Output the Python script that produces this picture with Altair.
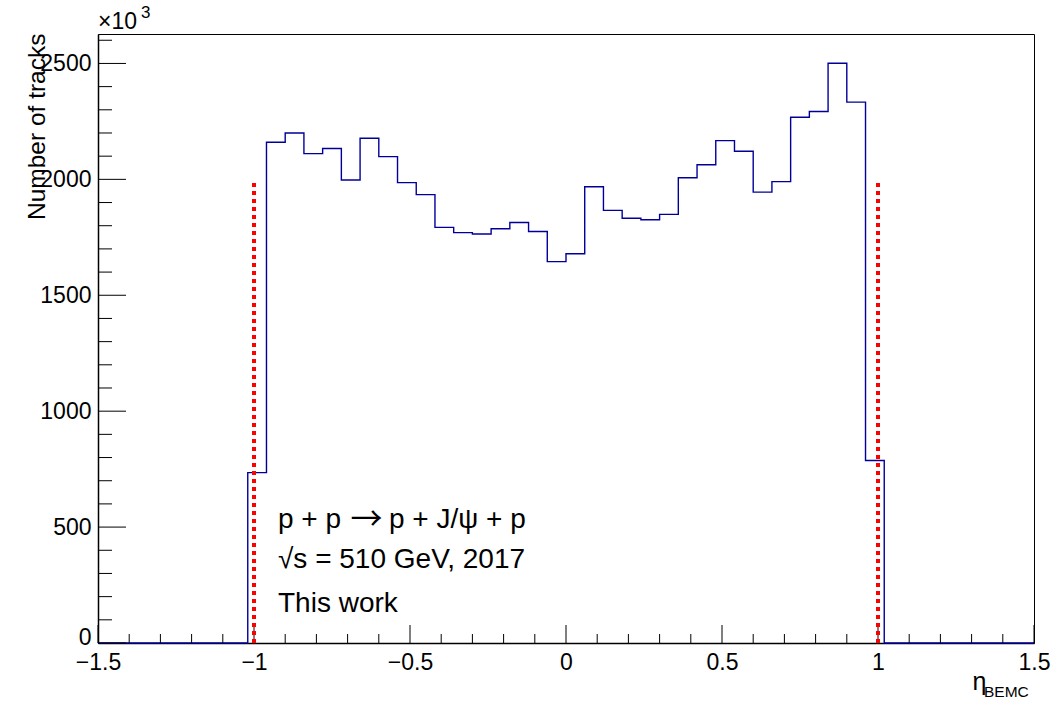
import altair as alt
import pandas as pd

# ---------------- data ----------------
bin_lo = -1.02          # lower edge of first filled bin
bin_width = 0.06        # 50 bins over [-1.5, 1.5]
counts = [735, 2160, 2200, 2111, 2133, 1997, 2177, 2098, 1986, 1934,
          1793, 1770, 1764, 1787, 1814, 1775, 1645, 1679, 1968, 1866,
          1832, 1826, 1849, 2007, 2063, 2167, 2121, 1945, 1990, 2268,
          2293, 2501, 2333, 787]          # in units of 10^3 tracks
x_min, x_max = -1.5, 1.5
y_max = 2627
cut_positions = [-1.0, 1.0]
cut_height = 1985
x_major = [-1.5, -1.0, -0.5, 0.0, 0.5, 1.0, 1.5]
x_minor = [-1.4, -1.3, -1.2, -1.1, -0.9, -0.8, -0.7, -0.6, -0.4, -0.3, -0.2, -0.1,
           0.1, 0.2, 0.3, 0.4, 0.6, 0.7, 0.8, 0.9, 1.1, 1.2, 1.3, 1.4]
y_major = [0, 500, 1000, 1500, 2000, 2500]
y_minor = [100, 200, 300, 400, 600, 700, 800, 900, 1100, 1200, 1300, 1400,
           1600, 1700, 1800, 1900, 2100, 2200, 2300, 2400, 2600]
annot_a = "p + p"
annot_arrow = "\u2192"
annot_b = "p + J/\u03c8 + p"
annot_lines = ["\u221as = 510 GeV, 2017", "This work"]

# ---------------- tables ----------------
edges = [x_min] + [round(bin_lo + bin_width * i, 4) for i in range(len(counts) + 1)] + [x_max]
vals = [0] + counts + [0, 0]
hist_df = pd.DataFrame({"x": edges, "y": vals})
cut_df = pd.DataFrame({"x": cut_positions, "y": [0] * len(cut_positions), "y1": [cut_height] * len(cut_positions)})
xmaj_df = pd.DataFrame({"x": x_major})
xmin_df = pd.DataFrame({"x": x_minor})
ymaj_df = pd.DataFrame({"y": y_major})
ymin_df = pd.DataFrame({"y": y_minor})

W, H = 936, 609
FONT = "Liberation Sans"
xs = alt.Scale(domain=[x_min, x_max], nice=False, zero=False)
ys = alt.Scale(domain=[0, y_max], nice=False, zero=False)
x_axis = alt.Axis(values=x_major, format="~g", ticks=False, grid=False, title=None,
                  labelFlush=False, labelOverlap=False, labelPadding=8)
y_axis = alt.Axis(values=y_major, format="d", ticks=False, grid=False, labelOverlap=False,
                  labelPadding=7, labelFlush=False,
                  labelOffset={"condition": {"test": "datum.value == 0", "value": -6}, "value": 0},
                  title="Number of tracks", titleAngle=-90,
                  titleAlign="right", titleBaseline="alphabetic", titleX=-54, titleY=-1)
X = lambda: alt.X("x:Q", scale=xs, axis=x_axis)
Y = lambda: alt.Y("y:Q", scale=ys, axis=y_axis)

hist = alt.Chart(hist_df).mark_line(
    interpolate="step-after", color="#000099", strokeWidth=1.4
).encode(x=X(), y=Y())

cuts = alt.Chart(cut_df).mark_rule(
    color="#ff0000", strokeWidth=4, strokeDash=[4, 4]
).encode(x=X(), y=Y(), y2="y1:Q")

xmaj = alt.Chart(xmaj_df).mark_rule(color="black", strokeWidth=1).encode(
    x=X(), y=alt.value(H), y2=alt.value(H - 18))
xmin = alt.Chart(xmin_df).mark_rule(color="black", strokeWidth=1).encode(
    x=X(), y=alt.value(H), y2=alt.value(H - 9))
ymaj = alt.Chart(ymaj_df).mark_rule(color="black", strokeWidth=1).encode(
    y=Y(), x=alt.value(0), x2=alt.value(28))
ymin = alt.Chart(ymin_df).mark_rule(color="black", strokeWidth=1).encode(
    y=Y(), x=alt.value(0), x2=alt.value(14))

def label(txt, px, py, size, align="left", font=FONT, baseline="alphabetic"):
    return alt.Chart(pd.DataFrame({"t": [txt]})).mark_text(
        align=align, baseline=baseline, font=font, fontSize=size, color="black"
    ).encode(text="t:N", x=alt.value(px), y=alt.value(py))

texts = [
    label(annot_a, 180, 494, 28),
    label(annot_arrow, 268.5, 486, 32, align="center", font="Noto Sans CJK JP", baseline="middle"),
    label(annot_b, 291, 494, 28),
    label(annot_lines[0], 180, 534, 28),
    label(annot_lines[1], 180, 577.5, 28),
    label("\u00d710", 0, -4.7, 23),
    label("3", 43, -15.7, 17),
    label("\u03b7", 874.5, 656, 25),
    label("BEMC", 886, 663, 15.5),
]

chart = alt.layer(hist, xmaj, xmin, ymaj, ymin, cuts, *texts).properties(
    width=W, height=H,
    padding={"left": 98, "top": 34, "right": 27, "bottom": 58},
    autosize=alt.AutoSizeParams(type="none"),
    background="white",
).configure_view(
    stroke="black", strokeWidth=1
).configure_axis(
    labelFont=FONT, labelFontSize=23, labelColor="black",
    titleFont=FONT, titleFontSize=24.5, titleColor="black", titleFontWeight="normal",
    domainColor="black", domainWidth=1.5,
)

chart.save("out.html", embed_options={"renderer": "svg", "actions": False})
